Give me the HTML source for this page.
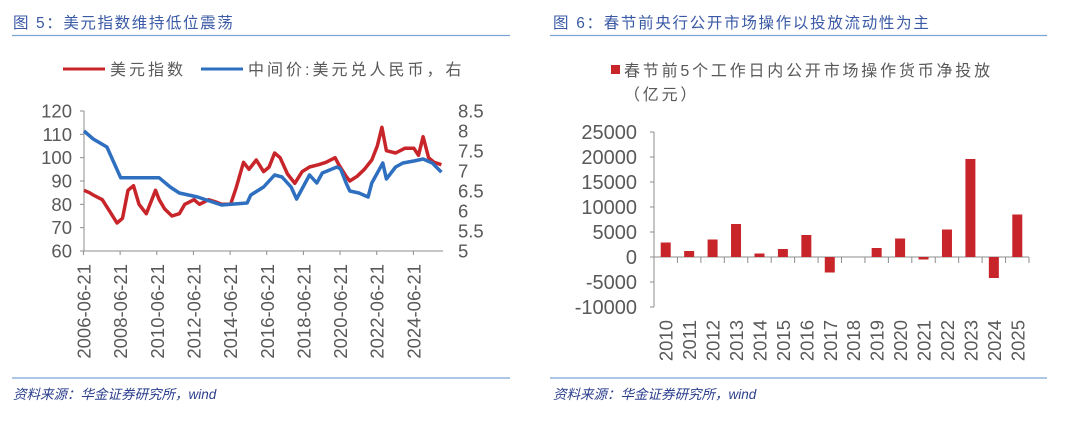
<!DOCTYPE html>
<html><head><meta charset="utf-8">
<style>
body{margin:0;background:#fff;width:1080px;height:417px;overflow:hidden;font-family:"Liberation Sans","Noto Sans CJK SC",sans-serif;}
svg text{font-family:"Liberation Sans","Noto Sans CJK SC",sans-serif;}
</style></head>
<body>
<svg id="s" width="1080" height="417" viewBox="0 0 1080 417">
<g>
<text x="13" y="28" font-size="15.5" letter-spacing="1.6" fill="#3a5aa6">图 5：美元指数维持低位震荡</text>
<line x1="12" y1="35.5" x2="510" y2="35.5" stroke="#7aa3d6" stroke-width="1.2"/>
</g>
<g>
<text x="553" y="28" font-size="15.5" letter-spacing="1.7" fill="#3a5aa6">图 6：春节前央行公开市场操作以投放流动性为主</text>
<line x1="550" y1="35.5" x2="1047" y2="35.5" stroke="#7aa3d6" stroke-width="1.2"/>
</g>
<g>
<line x1="63" y1="69" x2="105" y2="69" stroke="#c8252a" stroke-width="3"/>
<text x="110" y="75" font-size="16" letter-spacing="3" fill="#595959">美元指数</text>
<line x1="201" y1="69" x2="243" y2="69" stroke="#2e6fc0" stroke-width="3"/>
<text x="248" y="75" font-size="16" letter-spacing="3" fill="#595959">中间价:美元兑人民币，右</text>
</g>
<g>
<rect x="611" y="65" width="9" height="9" fill="#c8252a"/>
<text x="624" y="76" font-size="16" letter-spacing="2.8" fill="#595959">春节前5个工作日内公开市场操作货币净投放</text>
<text x="624" y="100" font-size="16" letter-spacing="2.8" fill="#595959">（亿元）</text>
</g>
<g id="L"></g>
<g id="R"></g>
<line x1="12" y1="378" x2="510" y2="378" stroke="#7aa3d6" stroke-width="1.2"/>
<line x1="550" y1="378" x2="1047" y2="378" stroke="#7aa3d6" stroke-width="1.2"/>
<text x="13" y="399" font-size="13.5" font-style="italic" fill="#2b3f8c">资料来源：华金证券研究所，wind</text>
<text x="553" y="399" font-size="13.5" font-style="italic" fill="#2b3f8c">资料来源：华金证券研究所，wind</text>
</svg>
<script>
const dxyYears=[2006.5,2006.8,2007.0,2007.5,2007.9,2008.3,2008.6,2008.9,2009.2,2009.5,2009.9,2010.4,2010.6,2010.9,2011.3,2011.7,2012.0,2012.5,2012.8,2013.3,2013.7,2014.0,2014.5,2014.8,2015.2,2015.5,2015.9,2016.3,2016.6,2016.9,2017.2,2017.6,2018.0,2018.4,2018.8,2019.3,2019.7,2020.2,2020.4,2020.8,2021.0,2021.4,2021.8,2022.2,2022.5,2022.75,2023.0,2023.5,2024.0,2024.5,2024.75,2025.0,2025.3,2025.6,2026.0];
const dxyValues=[86,85,84,82,77,72,74,86,88,80,76,86,82,78,75,76,80,82,80,82,81,80,80,87,98,95,99,94,96,102,100,93,89,94,96,97,98,100,97,92,90,92,95,99,105,113,103,102,104,104,101,109,100,98,97];
const cnyYears=[2006.5,2007.0,2007.75,2008.5,2009.5,2010.6,2011.2,2011.7,2012.7,2014.0,2015.4,2015.6,2016.3,2016.9,2017.3,2017.8,2018.1,2018.8,2019.2,2019.5,2020.3,2020.5,2020.8,2021.0,2021.5,2022.0,2022.2,2022.8,2023.0,2023.5,2023.9,2024.5,2025.0,2025.5,2026.0];
const cnyValues=[8.0,7.8,7.6,6.83,6.83,6.83,6.6,6.45,6.35,6.15,6.2,6.4,6.6,6.9,6.85,6.6,6.3,6.9,6.7,6.95,7.1,7.05,6.7,6.5,6.45,6.35,6.7,7.2,6.8,7.1,7.2,7.25,7.3,7.2,6.97];
const leftTicks=[60,70,80,90,100,110,120];
const rightTicks=["5","5.5","6","6.5","7","7.5","8","8.5"];
const dateLabels=["2006-06-21","2008-06-21","2010-06-21","2012-06-21","2014-06-21","2016-06-21","2018-06-21","2020-06-21","2022-06-21","2024-06-21"];
const barYears=["2010","2011","2012","2013","2014","2015","2016","2017","2018","2019","2020","2021","2022","2023","2024","2025"];
const barValues=[2900,1200,3500,6600,700,1600,4400,-3100,0,1800,3700,-500,5500,19600,-4200,8500];
const barTicks=[-10000,-5000,0,5000,10000,15000,20000,25000];

const NS="http://www.w3.org/2000/svg";
function mk(p,t,a){const e=document.createElementNS(NS,t);for(const k in a)e.setAttribute(k,a[k]);p.appendChild(e);return e;}
const L=document.getElementById('L'),R=document.getElementById('R');
const lx=y=>84+(y-2006.5)*18.33;
const ly=v=>251-(v-60)*140/60;
const ry=v=>251-(v-5)*140/3.5;
let ax=mk(L,'path',{d:'M84,111V251H443',stroke:'#8c8c8c',fill:'none','stroke-width':1});


leftTicks.forEach(v=>{const t=mk(L,'text',{x:72,y:ly(v)+6.5,'text-anchor':'end','font-size':18.5,fill:'#595959'});t.textContent=v;


mk(L,'line',{x1:80,x2:84,y1:ly(v),y2:ly(v),stroke:'#8c8c8c'});});
rightTicks.forEach(v=>{const t=mk(L,'text',{x:458,y:ry(+v)+6.5,'font-size':18.5,fill:'#595959'});t.textContent=v;

});
dateLabels.forEach(d=>{const yr=+d.slice(0,4)+0.47;const x=lx(yr);
mk(L,'line',{x1:x,x2:x,y1:251,y2:255,stroke:'#8c8c8c'});
const t=mk(L,'text',{x:0,y:0,'text-anchor':'end','font-size':18.5,fill:'#595959',transform:`translate(${x+7},264) rotate(-90)`});t.textContent=d;

});
let d1=dxyYears.map((y,i)=>(i?'L':'M')+lx(y).toFixed(1)+','+ly(dxyValues[i]).toFixed(1)).join('');
let l1=mk(L,'path',{d:d1,fill:'none',stroke:'#c8252a','stroke-width':3.5,'stroke-linejoin':'round'});


let d2=cnyYears.map((y,i)=>(i?'L':'M')+lx(y).toFixed(1)+','+ry(cnyValues[i]).toFixed(1)).join('');
let l2=mk(L,'path',{d:d2,fill:'none',stroke:'#2e6fc0','stroke-width':3.5,'stroke-linejoin':'round'});


const bx0=654,bw=(1029-654)/barYears.length;
const by=v=>257-v*125/25000;
let ax2=mk(R,'path',{d:`M${bx0},132V307M${bx0},257H1029`,stroke:'#8c8c8c',fill:'none'});


barTicks.forEach(v=>{mk(R,'line',{x1:bx0-4,x2:bx0,y1:by(v),y2:by(v),stroke:'#8c8c8c'});
const t=mk(R,'text',{x:637,y:by(v)+7,'text-anchor':'end','font-size':20,fill:'#595959'});t.textContent=v;

});
barYears.forEach((yr,i)=>{const cx=bx0+bw*(i+0.5),v=barValues[i];
mk(R,'line',{x1:bx0+bw*(i+1),x2:bx0+bw*(i+1),y1:257,y2:263,stroke:'#8c8c8c'});
const r=mk(R,'rect',{x:cx-5,y:Math.min(by(v),257),width:10,height:Math.abs(by(v)-257),fill:'#c8252a'});


const t=mk(R,'text',{x:0,y:0,'text-anchor':'end','font-size':18.5,fill:'#595959',transform:`translate(${cx+7},320) rotate(-90)`});t.textContent=yr;

});
</script>
</body></html>
